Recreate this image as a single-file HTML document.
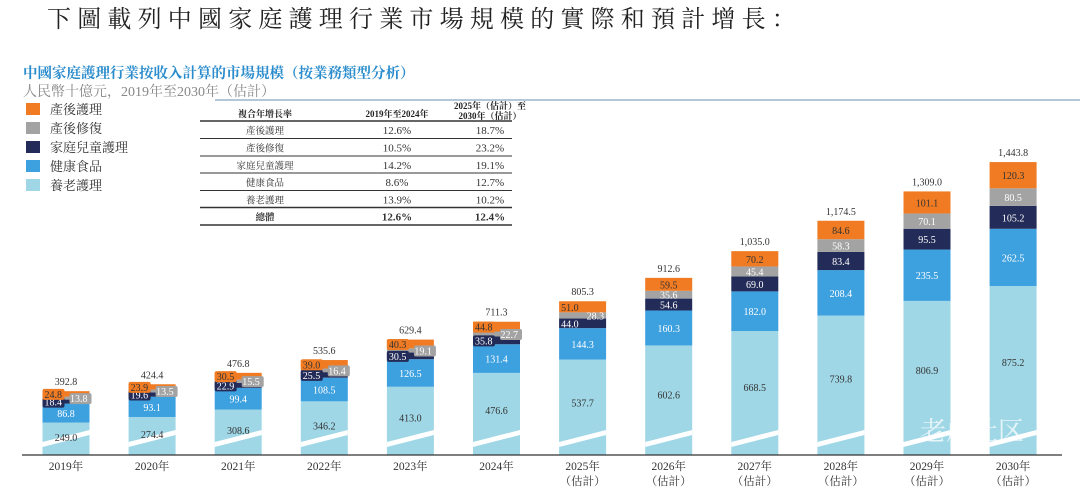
<!DOCTYPE html>
<html><head><meta charset="utf-8">
<style>
body{margin:0;background:#fff;}
#wrap{position:relative;width:1080px;height:493px;overflow:hidden;font-family:"Liberation Serif","Noto Serif CJK SC","Noto Sans CJK TC",serif;}
svg text{font-family:"Liberation Serif","Noto Serif CJK SC","Noto Sans CJK TC",serif;}
</style></head>
<body>
<div id="wrap">
<svg id="svg" width="1080" height="493" xmlns="http://www.w3.org/2000/svg">
  <text x="47" y="27" font-size="24" letter-spacing="6.2" fill="#222">下圖載列中國家庭護理行業市場規模的實際和預計增長：</text>
  <text x="23" y="78" font-size="14.5" font-weight="bold" fill="#2a8ccc">中國家庭護理行業按收入計算的市場規模（按業務類型分析）</text>
  <text x="23" y="96" font-size="14" fill="#888">人民幣十億元，2019年至2030年（估計）</text>
  <line x1="215" y1="100" x2="1085" y2="100" stroke="#6a8fb0" stroke-width="1"/>
  <g id="legend"></g>
  <g id="table"></g>
  <g id="bars"></g>
  <line x1="22" y1="455" x2="1062" y2="455" stroke="#333" stroke-width="1.2"/>
  <g id="xlabels"></g>
  <text x="920" y="440" font-size="26" fill="#fff" opacity="0.75" font-family="Liberation Sans, Noto Sans CJK SC, sans-serif">老虎社区</text>
</svg>
</div>
<script>
const years=["2019年","2020年","2021年","2022年","2023年","2024年","2025年","2026年","2027年","2028年","2029年","2030年"];
const estimated=[false,false,false,false,false,false,true,true,true,true,true,true];
const elderly=[249.0,274.4,308.6,346.2,413.0,476.6,537.7,602.6,668.5,739.8,806.9,875.2];
const health=[86.8,93.1,99.4,108.5,126.5,131.4,144.3,160.3,182.0,208.4,235.5,262.5];
const family=[18.4,19.6,22.9,25.5,30.5,35.8,44.0,54.6,69.0,83.4,95.5,105.2];
const rehab=[13.8,13.5,15.5,16.4,19.1,22.7,28.3,35.6,45.4,58.3,70.1,80.5];
const postpartum=[24.8,23.9,30.5,39.0,40.3,44.8,51.0,59.5,70.2,84.6,101.1,120.3];
const totals=[392.8,424.4,476.8,535.6,629.4,711.3,805.3,912.6,1035.0,1174.5,1309.0,1443.8];
const seriesNames=["產後護理","產後修復","家庭兒童護理","健康食品","養老護理"];
const tableRows=[["產後護理","12.6%","18.7%"],["產後修復","10.5%","23.2%"],["家庭兒童護理","14.2%","19.1%"],["健康食品","8.6%","12.7%"],["養老護理","13.9%","10.2%"],["總體","12.6%","12.4%"]];
const colors=["#f07b22","#a3a3a3","#232c58","#3da0df","#9fd7e6"];
const NS="http://www.w3.org/2000/svg";
const base=455,k=0.218,brk=100;
function xC(i){return 66+i*86.1;}
function h(v){return v*k;}
function hE(v){return (v-brk)*k;}
function mk(tag,attrs,parent){const e=document.createElementNS(NS,tag);for(const a in attrs)e.setAttribute(a,attrs[a]);parent.appendChild(e);return e;}
function fmt(v){return v.toLocaleString('en-US',{minimumFractionDigits:1,maximumFractionDigits:1});}
// legend
const lg=document.getElementById('legend');
seriesNames.forEach((n,i)=>{
  const r=mk('rect',{x:26,y:103+i*19,width:14,height:12,fill:colors[i]},lg);
  
  
  const t=mk('text',{x:50,y:114+i*19,'font-size':13,fill:'#333'},lg);
  t.textContent=n;
  
  
});
// table
const tb=document.getElementById('table');
const cx=[265,397,490];
[["複合年增長率",117],["2019年至2024年",117]].forEach((a,i)=>{const t=mk('text',{x:cx[i],y:a[1],'font-size':9,'font-weight':'bold','text-anchor':'middle',fill:'#222'},tb);t.textContent=a[0];});
{const t=mk('text',{x:cx[2],y:109,'font-size':9,'font-weight':'bold','text-anchor':'middle',fill:'#222'},tb);t.textContent="2025年（估計）至";
const t2=mk('text',{x:cx[2],y:119,'font-size':9,'font-weight':'bold','text-anchor':'middle',fill:'#222'},tb);t2.textContent="2030年（估計）";}
const lineY=[121,138.5,156,173,190.5,207.5,225];
lineY.forEach((y,i)=>{const l=mk('line',{x1:200,x2:512,y1:y,y2:y,stroke:'#333','stroke-width':i==0||i==5||i==6?1.4:1},tb);});
tableRows.forEach((r,ri)=>{r.forEach((c,ci)=>{const bold=ri==5;const t=mk('text',{x:cx[ci],y:lineY[ri]+13,'font-size':ci==0?9.5:11,'font-weight':bold?'bold':'normal','text-anchor':'middle',fill:'#333'},tb);t.textContent=c;});});
// bars
const bg=document.getElementById('bars');
const xl=document.getElementById('xlabels');
const bw=47;
years.forEach((y,i)=>{
  const g=mk('g',{},bg);
  
  
  const x0=xC(i)-bw/2;
  const vals=[elderly[i],health[i],family[i],rehab[i],postpartum[i]];
  const hs=[hE(vals[0]),h(vals[1]),h(vals[2]),h(vals[3]),h(vals[4])];
  const cols=[colors[4],colors[3],colors[2],colors[1],colors[0]];
  let top=base;const tops=[];
  hs.forEach((hh,s)=>{top-=hh;tops.push(top);
    const r=mk('rect',{x:x0,y:top,width:bw,height:hh,fill:cols[s]},g);
    
    
  });
  // break slash
  const p=mk('polygon',{points:`${x0},${base-13} ${x0+bw},${base-25} ${x0+bw},${base-20} ${x0},${base-8}`,fill:'#fff'},g);
  
  
  const txtCols=['#333','#fff','#fff','#fff','#333'];
  const compact=i<=6;
  vals.forEach((v,s)=>{
    let cy=tops[s]+hs[s]/2+4, ax=xC(i), anchor='middle';
    if(s==0){cy=tops[0]+hs[0]*0.45+4;}
    if(compact&&s>=2){
      if(s==2){ax=x0+2;anchor='start';cy=tops[2]+hs[2]/2+4;}
      if(s==3){ax=x0+bw-2;anchor='end';cy=tops[3]+hs[3]/2+4;}
      if(s==4){ax=x0+2;anchor='start';cy=tops[4]+hs[4]/2+4;}
      if(i<=5){
        const tw=20,th=11;const bx=anchor=='start'?ax-2:ax-tw+2;
        const c=mk('rect',{x:bx,y:cy-9,width:tw+2,height:th,rx:2,fill:cols[s]},g);
        
        
      }
    }
    const t=mk('text',{x:ax,y:cy,'font-size':10,'text-anchor':anchor,fill:txtCols[s]},g);
    t.textContent=v.toFixed(1);
    
    
  });
  const tt=mk('text',{x:xC(i),y:tops[4]-6,'font-size':10,'text-anchor':'middle',fill:'#333'},g);
  tt.textContent=fmt(totals[i]);
  
  
  const xt=mk('text',{x:xC(i),y:470,'font-size':11.5,'text-anchor':'middle',fill:'#333'},xl);
  xt.textContent=y;
  
  
  if(estimated[i]){
    const e=mk('text',{x:xC(i),y:485,'font-size':11.5,'text-anchor':'middle',fill:'#333'},xl);
    e.textContent='（估計）';
    
    
  }
});
</script>
</body></html>
